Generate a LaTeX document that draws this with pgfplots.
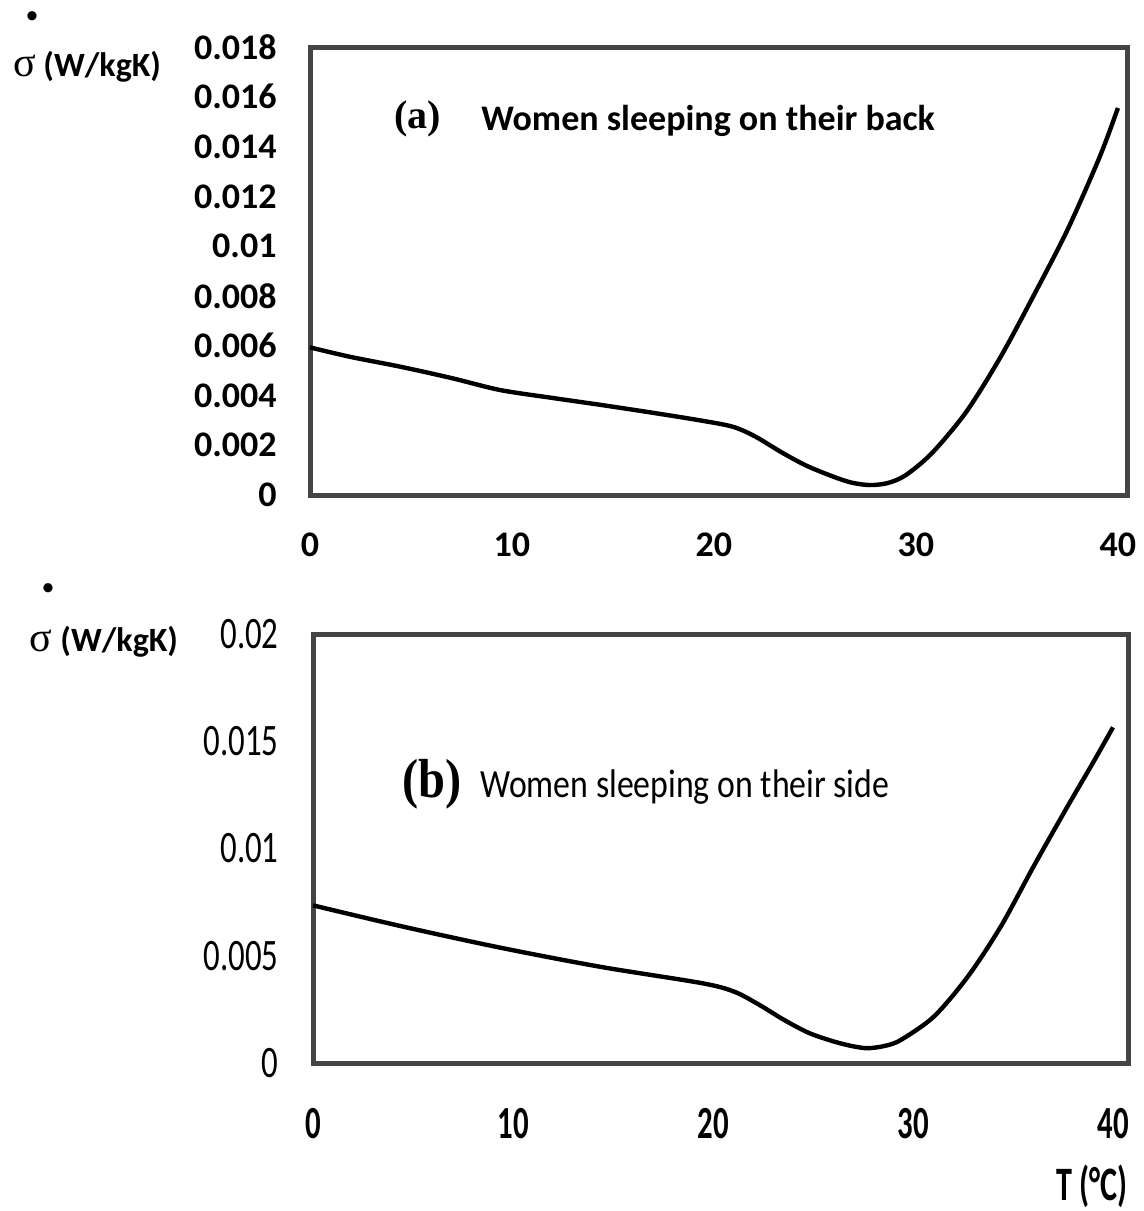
\documentclass[border=0pt]{standalone}
\usepackage{pgfplots}
\pgfplotsset{compat=1.18}
\usepackage{fontspec}
\setmainfont{Carlito}
\newfontfamily\condY[FakeStretch=0.73]{Carlito}
\newfontfamily\condX[FakeStretch=0.67]{Carlito}
\newfontfamily\condT[FakeStretch=0.845]{Carlito}
\newfontfamily\serifb[FakeStretch=0.88]{Liberation Serif}
\newfontfamily\serifa{Liberation Serif}
\definecolor{framegray}{HTML}{444444}

\pgfplotstableread{
T S
0 0.00593
2 0.00555
4.5 0.00515
7 0.00470
9.4 0.00422
12 0.00390
14.4 0.00362
17 0.00330
19.3 0.00300
20.9 0.00275
22 0.00237
23.4 0.00169
24.6 0.00117
25.9 0.00074
26.8 0.00050
27.7 0.00040
28.6 0.00048
29.5 0.00080
30.8 0.00169
32.5 0.00335
34.2 0.00556
35.8 0.00797
37.5 0.01065
39.1 0.01359
40 0.01555
}\backdata

\pgfplotstableread{
T S
0 0.00735
4.4 0.00638
9.4 0.00537
14.4 0.00448
19.4 0.00373
21.05 0.00333
22.3 0.00272
23.55 0.00201
24.8 0.00140
26.05 0.00100
27 0.00078
27.75 0.00069
28.6 0.00080
29.4 0.00108
31.05 0.00217
32.75 0.00404
34.4 0.00638
36.05 0.00920
37.75 0.01200
39 0.01400
40 0.01565
}\sidedata

\begin{document}
\begin{tikzpicture}
\useasboundingbox (0,0) rectangle (572pt,-605.5pt);
\pgfplotsset{
  common/.style={
    scale only axis,
    anchor=north west,
    xmin=0, ymin=0,
    major tick length=0pt,
    scaled y ticks=false,
    scaled x ticks=false,
    axis line style={draw=framegray, line width=2.5pt},
    tick label style={inner sep=0pt},
    clip=false,
  }
}
\begin{axis}[common,
  at={(155pt,-23.5pt)},
  width=408.5pt, height=224pt,
  xmax=40.45, ymax=0.018,
  xtick={0,10,20,30,40}, xticklabels={0,10,20,30,40},
  ytick={0,0.002,0.004,0.006,0.008,0.01,0.012,0.014,0.016,0.018},
  yticklabels={0,0.002,0.004,0.006,0.008,0.01,0.012,0.014,0.016,0.018},
  yticklabel style={font=\fontsize{18}{20}\selectfont\bfseries, anchor=east, xshift=-16.5pt},
  xticklabel style={font=\fontsize{18}{20}\selectfont\bfseries, anchor=north, yshift=-18.5pt},
]
\addplot[black, line width=2.2pt, smooth] table[x=T, y=S] {\backdata};
\end{axis}

\begin{axis}[common,
  at={(156.5pt,-317pt)},
  width=407.5pt, height=214.5pt,
  xmax=40.75, ymax=0.02,
  xtick={0,10,20,30,40}, xticklabels={0,10,20,30,40},
  ytick={0,0.005,0.01,0.015,0.02},
  yticklabels={0,0.005,0.01,0.015,0.02},
  yticklabel style={font=\fontsize{22.5}{24}\condY, anchor=east, xshift=-17pt},
  xticklabel style={font=\fontsize{23}{25}\condX\bfseries, anchor=north, yshift=-22.5pt},
]
\addplot[black, line width=2.2pt, smooth] table[x=T, y=S] {\sidedata};
\end{axis}

% top panel texts
\node[font=\fontsize{13}{13}\selectfont, inner sep=0pt] at (16pt,-9pt) {\textbullet};
\node[font=\fontsize{21}{23}\serifa, anchor=base west, inner sep=0pt] at (6.5pt,-38pt) {σ};
\node[font=\fontsize{17}{19}\selectfont\bfseries, anchor=base west, inner sep=0pt] at (21.5pt,-38pt) {(W/kgK)};
\node[font=\fontsize{20}{22}\serifa\bfseries, anchor=base west, inner sep=0pt] at (197pt,-64pt) {(a)};
\node[font=\fontsize{18}{20}\selectfont\bfseries, anchor=base west, inner sep=0pt] at (240.5pt,-65pt) {Women sleeping on their back};

% bottom panel texts
\node[font=\fontsize{13}{13}\selectfont, inner sep=0pt] at (24pt,-295pt) {\textbullet};
\node[font=\fontsize{21}{23}\serifa, anchor=base west, inner sep=0pt] at (14.5pt,-325.5pt) {σ};
\node[font=\fontsize{17}{19}\selectfont\bfseries, anchor=base west, inner sep=0pt] at (30pt,-325.5pt) {(W/kgK)};
\node[font=\fontsize{27.5}{30}\serifb\bfseries, anchor=base west, inner sep=0pt] at (201pt,-398.5pt) {(b)};
\node[font=\fontsize{20}{22}\condT, anchor=base west, inner sep=0pt] at (240pt,-398.5pt) {Women sleeping on their side};
\node[font=\fontsize{24}{26}\condX\bfseries, anchor=base east, inner sep=0pt] at (564pt,-600pt) {T (°C)};
\end{tikzpicture}
\end{document}
